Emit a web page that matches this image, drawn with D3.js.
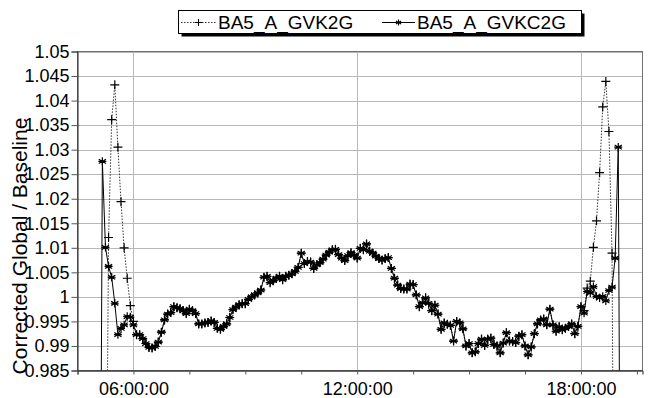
<!DOCTYPE html>
<html><head><meta charset="utf-8">
<script src="https://cdn.jsdelivr.net/npm/d3@7"></script>
<style>
html,body{margin:0;padding:0;background:#fff;}
svg{display:block;font-family:"Liberation Sans",Arial,sans-serif;}
</style></head>
<body><svg id="c" width="656" height="398"></svg>
<script>
// ---- data ----
const seriesNames = ["BA5_A_GVK2G", "BA5_A_GVKC2G"];
const times = [
 "05:05","05:10","05:15","05:20","05:25","05:30","05:35","05:40","05:45","05:50","05:55",
 "06:00","06:05","06:10","06:15","06:20","06:25","06:30","06:35","06:40","06:45","06:50","06:55",
 "07:00","07:05","07:10","07:15","07:20","07:25","07:30","07:35","07:40","07:45","07:50","07:55",
 "08:00","08:05","08:10","08:15","08:20","08:25","08:30","08:35","08:40","08:45","08:50","08:55",
 "09:00","09:05","09:10","09:15","09:20","09:25","09:30","09:35","09:40","09:45","09:50","09:55",
 "10:00","10:05","10:10","10:15","10:20","10:25","10:30","10:35","10:40","10:45","10:50","10:55",
 "11:00","11:05","11:10","11:15","11:20","11:25","11:30","11:35","11:40","11:45","11:50","11:55",
 "12:00","12:05","12:10","12:15","12:20","12:25","12:30","12:35","12:40","12:45","12:50","12:55",
 "13:00","13:05","13:10","13:15","13:20","13:25","13:30","13:35","13:40","13:45","13:50","13:55",
 "14:00","14:05","14:10","14:15","14:20","14:25","14:30","14:35","14:40","14:45","14:50","14:55",
 "15:00","15:05","15:10","15:15","15:20","15:25","15:30","15:35","15:40","15:45","15:50","15:55",
 "16:00","16:05","16:10","16:15","16:20","16:25","16:30","16:35","16:40","16:45","16:50","16:55",
 "17:00","17:05","17:10","17:15","17:20","17:25","17:30","17:35","17:40","17:45","17:50","17:55",
 "18:00","18:05","18:10","18:15","18:20","18:25","18:30","18:35","18:40","18:45","18:50","18:55",
 "19:00","19:05"
];
const gvk2g = [
 0.900,0.900,0.930,1.0121,1.0361,1.0432,1.0305,1.0194,1.0100,1.0038,0.9982,
 0.9950,0.9923,0.9923,0.9915,0.9905,0.9897,0.9896,0.9899,0.9908,0.9928,0.9953,0.9965,
 0.9968,0.9980,0.9978,0.9976,0.9972,0.9966,0.9975,0.9972,0.9966,0.9945,0.9945,0.9947,
 0.9948,0.9951,0.9948,0.9936,0.9934,0.9940,0.9945,0.9958,0.9974,0.9979,0.9984,0.9986,
 0.9986,0.9995,1.0000,1.0004,1.0008,1.0014,1.0040,1.0042,1.0029,1.0033,1.0038,1.0042,
 1.0035,1.0042,1.0044,1.0047,1.0052,1.0060,1.0089,1.0068,1.0072,1.0071,1.0058,1.0065,
 1.0070,1.0077,1.0085,1.0091,1.0096,1.0097,1.0086,1.0079,1.0074,1.0084,1.0090,1.0085,
 1.0079,1.0099,1.0096,1.0108,1.0093,1.0089,1.0083,1.0078,1.0075,1.0078,1.0080,1.0058,
 1.0038,1.0024,1.0017,1.0016,1.0016,1.0026,1.0025,1.0004,0.9980,0.9988,0.9998,0.9987,
 0.9972,0.9983,0.9965,0.9934,0.9947,0.9944,0.9942,0.9910,0.9950,0.9947,0.9935,0.9900,
 0.9905,0.9886,0.9888,0.9905,0.9914,0.9901,0.9914,0.9916,0.9903,0.9900,0.9886,0.9906,
 0.9927,0.9910,0.9909,0.9907,0.9920,0.9923,0.9900,0.9882,0.9898,0.9925,0.9945,0.9953,
 0.9955,0.9943,0.9975,0.9943,0.9930,0.9939,0.9933,0.9936,0.9940,0.9945,0.9925,0.9940,
 0.9980,0.9972,1.0018,1.0032,1.0101,1.0155,1.0253,1.0387,1.0439,1.0337,1.0089,0.900,
 0.900,0.900
];
const gvkc2g = [
 0.900,1.0276,1.0101,1.0062,1.0040,0.9987,0.9923,0.9936,0.9943,0.9960,0.9959,
 0.9943,0.9923,0.9923,0.9915,0.9905,0.9897,0.9896,0.9899,0.9908,0.9928,0.9953,0.9965,
 0.9968,0.9980,0.9978,0.9976,0.9972,0.9966,0.9975,0.9972,0.9966,0.9945,0.9945,0.9947,
 0.9948,0.9951,0.9948,0.9936,0.9934,0.9940,0.9945,0.9958,0.9974,0.9979,0.9984,0.9986,
 0.9986,0.9995,1.0000,1.0004,1.0008,1.0014,1.0040,1.0042,1.0029,1.0033,1.0038,1.0042,
 1.0035,1.0042,1.0044,1.0047,1.0052,1.0060,1.0089,1.0068,1.0072,1.0071,1.0058,1.0065,
 1.0070,1.0077,1.0085,1.0091,1.0096,1.0097,1.0086,1.0079,1.0074,1.0084,1.0090,1.0085,
 1.0079,1.0099,1.0096,1.0108,1.0093,1.0089,1.0083,1.0078,1.0075,1.0078,1.0080,1.0058,
 1.0038,1.0024,1.0017,1.0016,1.0016,1.0026,1.0025,1.0004,0.9980,0.9988,0.9998,0.9987,
 0.9972,0.9983,0.9965,0.9934,0.9947,0.9944,0.9942,0.9910,0.9950,0.9947,0.9935,0.9900,
 0.9905,0.9886,0.9888,0.9905,0.9914,0.9901,0.9914,0.9916,0.9903,0.9900,0.9886,0.9906,
 0.9927,0.9910,0.9909,0.9907,0.9920,0.9923,0.9900,0.9882,0.9898,0.9925,0.9945,0.9953,
 0.9955,0.9943,0.9975,0.9943,0.9930,0.9939,0.9933,0.9936,0.9940,0.9945,0.9925,0.9940,
 0.9980,0.9967,1.0011,1.0008,1.0021,1.0001,0.9998,1.0001,0.9992,1.0013,1.0020,1.0079,
 1.0305,0.900
];
const yTicks = [0.985,0.99,0.995,1,1.005,1.01,1.015,1.02,1.025,1.03,1.035,1.04,1.045,1.05];
const yTickLabels = ["0.985","0.99","0.995","1","1.005","1.01","1.015","1.02","1.025","1.03","1.035","1.04","1.045","1.05"];
const xTicks = ["04:30","06:00","07:30","09:00","10:30","12:00","13:30","15:00","16:30","18:00","19:30"];
const xLabelTicks = ["06:00","12:00","18:00"];
const xDomain = ["04:30","19:39"];
const yTitle = "Corrected Global / Baseline";

// ---- drawing ----
const parse = d3.timeParse("%H:%M");
const svg = d3.select("#c");
const L = 77.5, R = 642.5, T = 51.5, B = 370.5;
const x = d3.scaleTime().domain(xDomain.map(parse)).range([L, R]);
const y = d3.scaleLinear().domain([0.985, 1.05]).range([B, T]);

svg.append("defs").append("clipPath").attr("id","clip")
  .append("rect").attr("x",L).attr("y",T).attr("width",R-L).attr("height",B-T);

// horizontal gridlines
svg.append("g").selectAll("line").data(yTicks).join("line")
  .attr("x1",L).attr("x2",R)
  .attr("y1",d=>Math.round(y(d))+0.5).attr("y2",d=>Math.round(y(d))+0.5)
  .attr("stroke","#b8b8b8").attr("stroke-width",1);
// vertical gridlines
svg.append("g").selectAll("line").data(xLabelTicks).join("line")
  .attr("x1",d=>Math.round(x(parse(d)))+0.5).attr("x2",d=>Math.round(x(parse(d)))+0.5)
  .attr("y1",T).attr("y2",B)
  .attr("stroke","#b8b8b8").attr("stroke-width",1);

// plot border
svg.append("rect").attr("x",L).attr("y",T).attr("width",R-L).attr("height",B-T)
  .attr("fill","none").attr("stroke","#707070").attr("stroke-width",1);

// y axis
const yAxis = d3.axisLeft(y).tickValues(yTicks).tickSize(6).tickPadding(2)
  .tickFormat((d,i)=>yTickLabels[i]);
const gy = svg.append("g").attr("transform",`translate(${L},0)`).call(yAxis);
gy.select(".domain").attr("stroke","#222");
gy.selectAll(".tick line").attr("stroke","#555");
gy.selectAll("text").attr("font-size",18).attr("fill","#000")
  .attr("font-family","'Liberation Sans',Arial,sans-serif");

// x axis
const xAxis = d3.axisBottom(x).tickValues(xTicks.map(parse)).tickSize(4).tickPadding(8)
  .tickFormat(d=>{const s=d3.timeFormat("%H:%M")(d); return xLabelTicks.includes(s)? s+":00" : "";});
const gx = svg.append("g").attr("transform",`translate(0,${B})`).call(xAxis);
gx.select(".domain").attr("stroke","#222");
gx.selectAll(".tick line").attr("stroke","#555");
gx.selectAll("text").attr("font-size",18).attr("fill","#000")
  .attr("font-family","'Liberation Sans',Arial,sans-serif");

// y title
svg.append("text").attr("transform","translate(27,246) rotate(-90)")
  .attr("text-anchor","middle").attr("font-size",21).attr("fill","#000")
  .text(yTitle);

// series
const plusPath = "M-4.5,0H4.5M0,-4.5V4.5";
const starPath = "M0,-4.2V4.2M-3.6,-2.1L3.6,2.1M-3.6,2.1L3.6,-2.1M-4,0H4";
const series = [
  {name: seriesNames[0], values: gvk2g, dash: "1.5,1.5", color:"#333", marker: plusPath},
  {name: seriesNames[1], values: gvkc2g, dash: null, color:"#000", marker: starPath}
];
const plot = svg.append("g").attr("clip-path","url(#clip)");
const line = d3.line().x((d,i)=>x(parse(times[i]))).y(d=>y(d));
series.forEach(s=>{
  plot.append("path").datum(s.values).attr("d",line)
    .attr("fill","none").attr("stroke",s.color).attr("stroke-width",1)
    .attr("stroke-dasharray",s.dash);
});
series.forEach(s=>{
  plot.append("g").selectAll("path").data(s.values).join("path")
    .attr("transform",(d,i)=>`translate(${x(parse(times[i]))},${y(d)})`)
    .attr("d",s.marker).attr("fill","none").attr("stroke","#000").attr("stroke-width",1.2);
});

// legend
const lg = svg.append("g");
lg.append("rect").attr("x",181.5).attr("y",13.5).attr("width",403).attr("height",23).attr("fill","#000");
lg.append("rect").attr("x",178.5).attr("y",10.5).attr("width",403).attr("height",23)
  .attr("fill","#fff").attr("stroke","#000");
const legItems = [{x0:181, x1:216, tx:218}, {x0:382, x1:415, tx:417}];
const legMarkers = ["M-3.5,0H3.5M0,-3.5V3.5", "M0,-3V3M-2.6,-1.5L2.6,1.5M-2.6,1.5L2.6,-1.5"];
series.forEach((s,i)=>{
  const it = legItems[i];
  lg.append("line").attr("x1",it.x0).attr("x2",it.x1).attr("y1",22.5).attr("y2",22.5)
    .attr("stroke",s.color).attr("stroke-width",1).attr("stroke-dasharray",s.dash);
  lg.append("path").attr("transform",`translate(${(it.x0+it.x1)/2},22.5)`).attr("d",legMarkers[i])
    .attr("fill","none").attr("stroke","#000").attr("stroke-width",1.1);
  lg.append("text").attr("x",it.tx).attr("y",29).attr("font-size",19).attr("fill","#000").text(s.name);
});
</script></body></html>
